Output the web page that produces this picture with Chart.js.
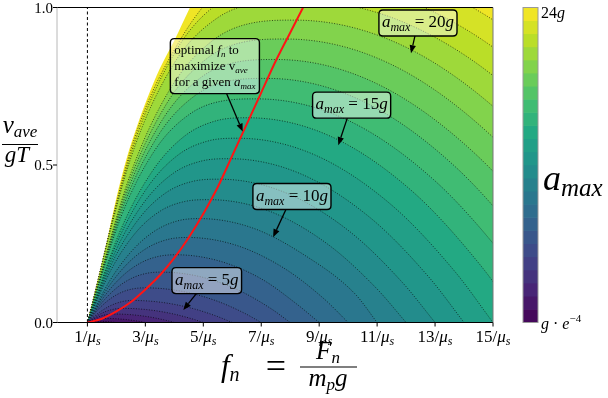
<!DOCTYPE html>
<html lang="en">
<head>
<meta charset="UTF-8">
<title>a_max contours over f_n and v_ave</title>
<script src="https://cdn.jsdelivr.net/npm/chart.js"></script>
<style>
  body { margin: 0; background: #fff; }
  canvas { display: block; }
</style>
</head>
<body>
<canvas id="contourChart" width="608" height="398"></canvas>
<script>
// ---- data (x in units of 1/mu_s, y = v_ave / gT) ----
const xTicks = [1, 3, 5, 7, 9, 11, 13, 15];
const yTicks = [0, 0.5, 1];
const levels = [1, 2, 3, 4, 5, 6, 7, 8, 9, 10, 11, 12, 13, 14, 15, 16, 17, 18, 19, 20, 21, 22, 23];
const topLevel = 24;

// edge of the feasible region (a_max -> infinity)
const boundary = [[1,0],[1.35,0.106],[1.7,0.268],[2,0.395],[2.35,0.52],[2.7,0.62],[3.06,0.71],[3.5,0.806],[4,0.895],[4.54,1.0],[5.2,1.12],[16,1.5]];

// one contour line per level
const contours = [
  [[1,0],[1.15,0.0026],[1.35,0.004],[1.6,0.0034],[2,0]],
  [[1,0],[1.2,0.0072],[1.4,0.0116],[1.6,0.013],[2.02,0.0118],[2.44,0.0083],[2.79,0.0036],[3,0]],
  [[1,0],[1.18,0.0097],[1.45,0.0203],[1.72,0.0259],[1.9,0.027],[2.53,0.0246],[3.16,0.0173],[3.685,0.0075],[4,0]],
  [[1,0],[1.24,0.0162],[1.6,0.0338],[1.96,0.0432],[2.2,0.045],[3.04,0.041],[3.88,0.0288],[4.58,0.0125],[5,0]],
  [[1,0],[1.31,0.0252],[1.775,0.0525],[2.24,0.0672],[2.55,0.07],[3.585,0.0637],[4.62,0.0448],[5.48,0.0194],[6,0]],
  [[1,0],[1.4,0.0441],[1.8,0.076],[2.2,0.0966],[2.6,0.1073],[3,0.11],[4.2,0.1001],[5.4,0.0704],[6.4,0.0305],[7,0]],
  [[1,0],[1.51,0.0642],[2.02,0.1106],[2.53,0.1405],[3.04,0.156],[3.55,0.16],[4.885,0.1456],[6.22,0.1024],[7.33,0.0444],[8,0]],
  [[1,0],[1.61,0.0862],[2.22,0.1486],[2.83,0.1888],[3.44,0.2096],[4.05,0.215],[5.535,0.1957],[7.02,0.1376],[8.21,0.0597],[9,0]],
  [[1,0],[1.69,0.1083],[2.38,0.1866],[3.07,0.2371],[3.76,0.2633],[4.45,0.27],[6.115,0.2457],[7.78,0.1728],[9.17,0.0749],[10,0]],
  [[1,0],[1.77,0.1323],[2.54,0.228],[3.31,0.2897],[4.08,0.3218],[4.85,0.33],[6.695,0.3003],[8.54,0.2112],[10.23,0.0916],[11,0]],
  [[1,0],[1.84,0.1716],[2.68,0.2867],[3.52,0.3541],[4.36,0.3842],[5.2,0.39],[7.24,0.3549],[9.28,0.2496],[10.98,0.1082],[12,0]],
  [[1,0],[1.91,0.2002],[2.82,0.3344],[3.73,0.4131],[4.64,0.4482],[5.55,0.455],[7.785,0.414],[10.02,0.2912],[11.88,0.1263],[13,0]],
  [[1,0],[1.98,0.2288],[2.96,0.3822],[3.94,0.4722],[4.92,0.5122],[5.9,0.52],[8.33,0.4732],[10.76,0.3328],[12.785,0.1443],[14,0]],
  [[1,0],[2.04,0.2574],[3.08,0.43],[4.12,0.5312],[5.16,0.5762],[6.2,0.585],[8.84,0.5324],[11.48,0.3744],[13.68,0.1623],[15,0]],
  [[1,0],[2.11,0.286],[3.22,0.4778],[4.33,0.5902],[5.44,0.6403],[6.55,0.65],[9.385,0.5915],[12.22,0.416],[14.58,0.1804],[16,0]],
  [[1,0],[2.17,0.338],[3.34,0.5488],[4.51,0.6603],[5.68,0.7036],[6.85,0.71],[9.895,0.6461],[12.94,0.4544],[15.48,0.197],[17,0]],
  [[1,0],[2.24,0.3689],[3.48,0.5991],[4.72,0.7208],[5.96,0.768],[7.2,0.775],[10.44,0.7053],[13.68,0.496],[16.38,0.2151],[18,0]],
  [[1,0],[2.3,0.3975],[3.6,0.6455],[4.9,0.7766],[6.2,0.8275],[7.5,0.835],[10.95,0.7599],[14.4,0.5344],[17.275,0.2317],[19,0]],
  [[1,0],[2.37,0.4284],[3.74,0.6957],[5.11,0.837],[6.48,0.8919],[7.85,0.9],[11.495,0.819],[15.14,0.576],[18.18,0.2498],[20,0]],
  [[1,0],[2.43,0.457],[3.86,0.7421],[5.29,0.8928],[6.72,0.9514],[8.15,0.96],[12.005,0.8736],[15.86,0.6144],[19.07,0.2664],[21,0]],
  [[1,0],[2.49,0.5202],[3.98,0.8211],[5.47,0.9659],[6.96,1.0139],[8.45,1.02],[12.515,0.9282],[16.58,0.6528],[22,0]],
  [[1,0],[2.55,0.5508],[4.1,0.8694],[5.65,1.0228],[7.2,1.0735],[8.75,1.08],[13.025,0.9828],[17.3,0.6912],[23,0]],
  [[1,0],[2.61,0.5814],[4.22,0.9],[5.83,1.0796],[7.44,1.1332],[9.05,1.14],[13.535,1.0374],[18.02,0.7296],[24,0]]
];

// optimal f_n for a given a_max (red line)
const optimalCurve = [[1,0],[1.5,0.012],[2,0.035],[2.5,0.065],[3,0.105],[3.5,0.15],[4,0.205],[4.5,0.27],[5,0.345],[5.5,0.43],[6,0.53],[6.5,0.63],[7,0.73],[7.5,0.83],[8,0.92],[8.5,1.01]];

// labelled contours: text, box centre and arrow tip in data units
const noteLevels = ['5', '10', '15', '20'];
const noteCenters = [[5.12,0.133],[8.06,0.40],[10.12,0.69],[12.41,0.951]];
const noteTips = [[4.31,0.04],[7.41,0.271],[9.66,0.563],[12.17,0.855]];
const optimalNoteCenter = [5.40, 0.814];
const optimalNoteTip = [6.36, 0.606];

// ---- helpers ----
const SERIF = '"Liberation Serif", "DejaVu Serif", serif';
const VIRIDIS = ['#440154','#482475','#414487','#355f8d','#2a788e','#21918c','#22a884','#44bf70','#7ad151','#bddf26','#fde725'];

function hexRgb(h) {
  return [parseInt(h.slice(1,3),16), parseInt(h.slice(3,5),16), parseInt(h.slice(5,7),16)];
}
function viridis(t) {
  t = Math.max(0, Math.min(1, t));
  const s = t * 10, i = Math.min(9, Math.floor(s)), f = s - i;
  const a = hexRgb(VIRIDIS[i]), b = hexRgb(VIRIDIS[i + 1]);
  return 'rgb(' + a.map((v, k) => Math.round(v + (b[k] - v) * f)).join(',') + ')';
}
function toXY(arr) { return arr.map(p => ({ x: p[0], y: p[1] })); }

function fontOf(r) { return (r.i ? 'italic ' : '') + r.s + 'px ' + SERIF; }
function runsWidth(ctx, runs) {
  let w = 0;
  runs.forEach(r => { ctx.font = fontOf(r); w += ctx.measureText(r.t).width; });
  return w;
}
function drawRuns(ctx, runs, x, y, align) {
  const w = runsWidth(ctx, runs);
  let cx = align === 'center' ? x - w / 2 : align === 'right' ? x - w : x;
  ctx.textBaseline = 'alphabetic';
  ctx.textAlign = 'left';
  runs.forEach(r => {
    ctx.font = fontOf(r);
    ctx.fillText(r.t, cx, y + (r.dy || 0));
    cx += ctx.measureText(r.t).width;
  });
  return w;
}
function roundBox(ctx, x, y, w, h, r) {
  ctx.beginPath();
  ctx.moveTo(x + r, y);
  ctx.lineTo(x + w - r, y); ctx.quadraticCurveTo(x + w, y, x + w, y + r);
  ctx.lineTo(x + w, y + h - r); ctx.quadraticCurveTo(x + w, y + h, x + w - r, y + h);
  ctx.lineTo(x + r, y + h); ctx.quadraticCurveTo(x, y + h, x, y + h - r);
  ctx.lineTo(x, y + r); ctx.quadraticCurveTo(x, y, x + r, y);
  ctx.closePath();
}
function arrow(ctx, cx, cy, w, h, tx, ty) {
  const dx = tx - cx, dy = ty - cy;
  const t0 = Math.min(dx ? (w / 2) / Math.abs(dx) : 1e9, dy ? (h / 2) / Math.abs(dy) : 1e9);
  const sx = cx + dx * t0, sy = cy + dy * t0;
  const len = Math.hypot(tx - sx, ty - sy), ux = (tx - sx) / len, uy = (ty - sy) / len;
  const hl = 8, hw = 3.2;
  ctx.strokeStyle = '#000'; ctx.fillStyle = '#000'; ctx.lineWidth = 1.3;
  ctx.beginPath(); ctx.moveTo(sx, sy); ctx.lineTo(tx - ux * hl, ty - uy * hl); ctx.stroke();
  ctx.beginPath();
  ctx.moveTo(tx, ty);
  ctx.lineTo(tx - ux * hl - uy * hw, ty - uy * hl + ux * hw);
  ctx.lineTo(tx - ux * hl + uy * hw, ty - uy * hl - ux * hw);
  ctx.closePath(); ctx.fill();
}

// ---- datasets ----
const datasets = [];
datasets.push({ data: toXY(optimalCurve), borderColor: '#ff1414', borderWidth: 2, fill: false,
  pointRadius: 0, cubicInterpolationMode: 'monotone' });
datasets.push({ data: [{ x: 1, y: 0 }, { x: 1, y: 1 }], borderColor: '#000', borderWidth: 1,
  borderDash: [3, 2.5], fill: false, pointRadius: 0 });
levels.forEach((L, i) => {
  datasets.push({ data: toXY(contours[i]), borderColor: 'rgba(0,0,0,0.8)', borderWidth: 0.8,
    borderDash: [1, 1.6], fill: 'origin', backgroundColor: viridis((L - 0.5) / topLevel),
    pointRadius: 0, cubicInterpolationMode: 'monotone' });
});
datasets.push({ data: toXY(boundary), borderColor: 'rgba(0,0,0,0)', borderWidth: 0, fill: 'origin',
  backgroundColor: viridis((topLevel - 0.5) / topLevel), pointRadius: 0, cubicInterpolationMode: 'monotone' });

// ---- axes, labels, colorbar, notes ----
const decor = {
  id: 'decor',
  afterDraw(chart) {
    const ctx = chart.ctx, a = chart.chartArea, xs = chart.scales.x, ys = chart.scales.y;
    ctx.save();

    // frame
    ctx.lineWidth = 1.2; ctx.strokeStyle = '#000';
    ctx.beginPath();
    ctx.moveTo(a.left, a.top); ctx.lineTo(a.right, a.top);
    ctx.moveTo(a.left, a.bottom); ctx.lineTo(a.right, a.bottom);
    ctx.stroke();
    ctx.lineWidth = 1; ctx.strokeStyle = '#b8b8b8';
    ctx.beginPath();
    ctx.moveTo(a.left, a.top); ctx.lineTo(a.left, a.bottom);
    ctx.stroke();
    ctx.strokeStyle = '#777';
    ctx.beginPath();
    ctx.moveTo(a.right, a.top); ctx.lineTo(a.right, a.bottom);
    ctx.stroke();

    // ticks and tick labels
    ctx.strokeStyle = '#000'; ctx.lineWidth = 1; ctx.fillStyle = '#000';
    xTicks.forEach(v => {
      const px = xs.getPixelForValue(v);
      ctx.beginPath(); ctx.moveTo(px, a.bottom); ctx.lineTo(px, a.bottom + 4); ctx.stroke();
      drawRuns(ctx, [{ t: v + '/', s: 17 }, { t: 'μ', s: 17, i: 1 }, { t: 's', s: 12, i: 1, dy: 3 }], px, 342, 'center');
    });
    yTicks.forEach(v => {
      const py = ys.getPixelForValue(v);
      ctx.beginPath(); ctx.moveTo(a.left - 4, py); ctx.lineTo(a.left, py); ctx.stroke();
      drawRuns(ctx, [{ t: v.toFixed(1), s: 15 }], a.left - 4, py + 5, 'right');
    });

    // y title: v_ave / gT
    drawRuns(ctx, [{ t: 'v', s: 25, i: 1 }, { t: 'ave', s: 17, i: 1, dy: 4 }], 20, 133, 'center');
    ctx.lineWidth = 1.1;
    ctx.beginPath(); ctx.moveTo(2, 144.5); ctx.lineTo(38, 144.5); ctx.stroke();
    drawRuns(ctx, [{ t: 'gT', s: 23, i: 1 }], 17, 162, 'center');

    // x title: f_n = F_n / (m_p g)
    drawRuns(ctx, [{ t: 'f', s: 31, i: 1 }, { t: 'n', s: 20, i: 1, dy: 5 }], 221, 376, 'left');
    drawRuns(ctx, [{ t: '=', s: 36 }], 276, 378, 'center');
    drawRuns(ctx, [{ t: 'F', s: 25, i: 1 }, { t: 'n', s: 17, i: 1, dy: 4 }], 328, 359, 'center');
    ctx.lineWidth = 1.2;
    ctx.beginPath(); ctx.moveTo(300, 367); ctx.lineTo(357, 367); ctx.stroke();
    drawRuns(ctx, [{ t: 'm', s: 25, i: 1 }, { t: 'p', s: 17, i: 1, dy: 4 }, { t: 'g', s: 25, i: 1 }], 328, 386, 'center');

    // colorbar
    const cbL = 523, cbR = 538, cbT = a.top, cbB = a.bottom;
    const bandH = (cbB - cbT) / topLevel;
    for (let k = 0; k < topLevel; k++) {
      ctx.fillStyle = viridis((k + 0.5) / topLevel);
      ctx.fillRect(cbL, cbB - (k + 1) * bandH - 0.3, cbR - cbL, bandH + 0.6);
    }
    ctx.strokeStyle = '#999'; ctx.lineWidth = 1;
    ctx.strokeRect(cbL, cbT, cbR - cbL, cbB - cbT);
    ctx.fillStyle = '#000';
    drawRuns(ctx, [{ t: '24', s: 16 }, { t: 'g', s: 16, i: 1 }], 541, 18, 'left');
    drawRuns(ctx, [{ t: 'g', s: 16, i: 1 }, { t: ' · ', s: 16 }, { t: 'e', s: 16, i: 1 }, { t: '−4', s: 11, dy: -7 }], 541, 329, 'left');
    drawRuns(ctx, [{ t: 'a', s: 36, i: 1 }, { t: 'max', s: 25, i: 1, dy: 6 }], 543, 190, 'left');

    // labelled contour notes
    noteLevels.forEach((lv, i) => {
      const cx = xs.getPixelForValue(noteCenters[i][0]), cy = ys.getPixelForValue(noteCenters[i][1]);
      const tx = xs.getPixelForValue(noteTips[i][0]), ty = ys.getPixelForValue(noteTips[i][1]);
      const runs = [{ t: 'a', s: 17, i: 1 }, { t: 'max', s: 12, i: 1, dy: 4 }, { t: ' = ' + lv, s: 17 }, { t: 'g', s: 17, i: 1 }];
      const w = runsWidth(ctx, runs) + 6, h = 26;
      arrow(ctx, cx, cy, w, h, tx, ty);
      roundBox(ctx, cx - w / 2, cy - h / 2, w, h, 4);
      ctx.fillStyle = 'rgba(255,255,255,0.45)'; ctx.fill();
      ctx.strokeStyle = '#000'; ctx.lineWidth = 1.4; ctx.stroke();
      ctx.fillStyle = '#000';
      drawRuns(ctx, runs, cx, cy + 4, 'center');
    });

    // optimal f_n note
    {
      const cx = xs.getPixelForValue(optimalNoteCenter[0]), cy = ys.getPixelForValue(optimalNoteCenter[1]);
      const tx = xs.getPixelForValue(optimalNoteTip[0]), ty = ys.getPixelForValue(optimalNoteTip[1]);
      const lines = [
        [{ t: 'optimal ', s: 13 }, { t: 'f', s: 13, i: 1 }, { t: 'n', s: 9, i: 1, dy: 3 }, { t: ' to', s: 13 }],
        [{ t: 'maximize v', s: 13 }, { t: 'ave', s: 9, i: 1, dy: 3 }],
        [{ t: 'for a given ', s: 13 }, { t: 'a', s: 13, i: 1 }, { t: 'max', s: 9, i: 1, dy: 3 }]
      ];
      const w = Math.max(...lines.map(l => runsWidth(ctx, l))) + 8, h = 55;
      arrow(ctx, cx, cy, w, h, tx, ty);
      roundBox(ctx, cx - w / 2, cy - h / 2, w, h, 4);
      ctx.fillStyle = 'rgba(255,255,255,0.45)'; ctx.fill();
      ctx.strokeStyle = '#000'; ctx.lineWidth = 1.4; ctx.stroke();
      ctx.fillStyle = '#000';
      lines.forEach((l, k) => drawRuns(ctx, l, cx - w / 2 + 4, cy - h / 2 + 15 + k * 16, 'left'));
    }
    ctx.restore();
  }
};

new Chart(document.getElementById('contourChart').getContext('2d'), {
  type: 'line',
  data: { datasets },
  options: {
    responsive: false,
    animation: false,
    events: [],
    layout: { padding: { left: 57, top: 7.5, right: 115, bottom: 75.5 } },
    scales: {
      x: { type: 'linear', min: -0.05, max: 15, display: false },
      y: { type: 'linear', min: 0, max: 1, display: false }
    },
    plugins: { legend: { display: false }, tooltip: { enabled: false } }
  },
  plugins: [decor]
});
</script>
</body>
</html>
